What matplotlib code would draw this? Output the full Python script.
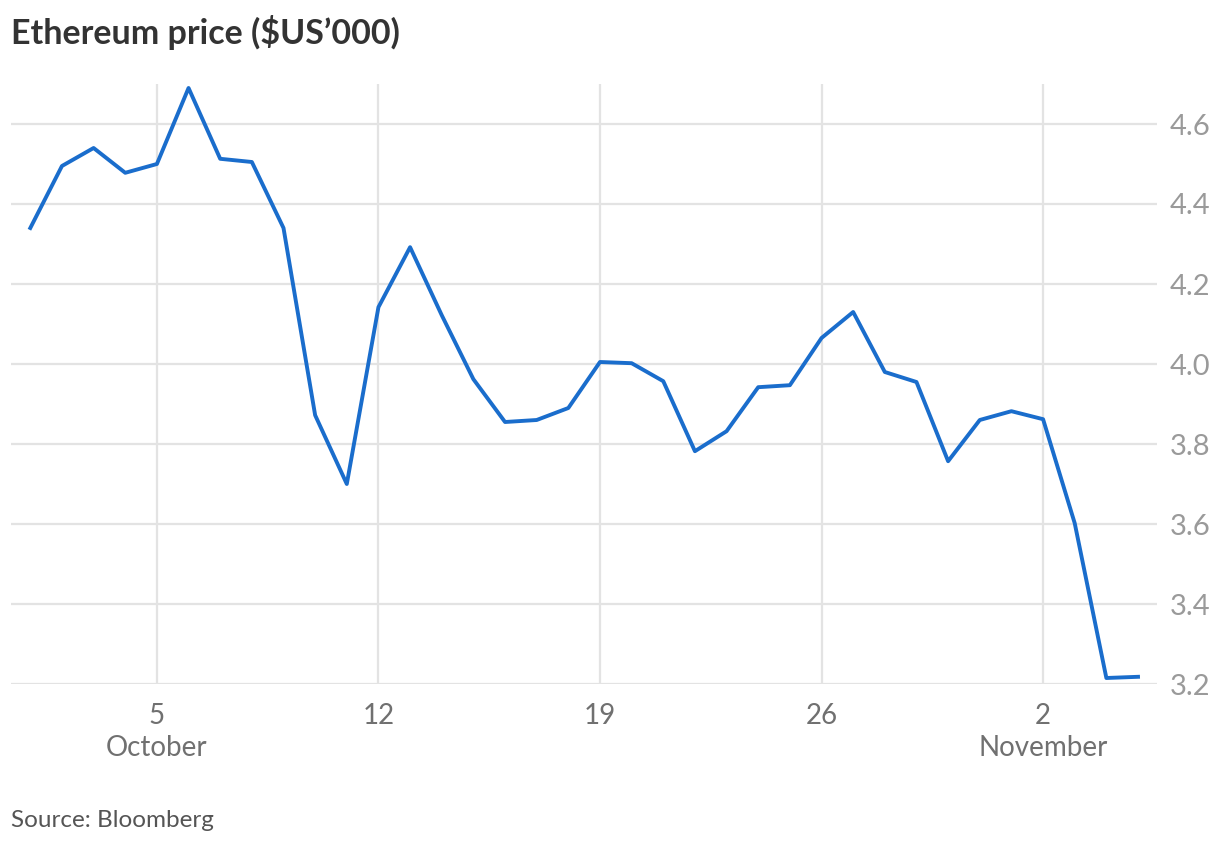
import numpy as np
import matplotlib.pyplot as plt

plt.rcParams["font.family"] = ["Lato", "DejaVu Sans"]

# daily prices, 1 Oct to 5 Nov, in $US'000
days = list(range(36))  # 0 = 1 October
price = [4.34, 4.495, 4.54, 4.478, 4.50, 4.69, 4.513, 4.505, 4.34, 3.872,
         3.70, 4.142, 4.292, 4.122, 3.962, 3.855, 3.86, 3.89, 4.005, 4.002,
         3.957, 3.782, 3.832, 3.942, 3.947, 4.065, 4.13, 3.98, 3.955, 3.757,
         3.86, 3.882, 3.862, 3.602, 3.215, 3.218]

tick_days = [4, 11, 18, 25, 32]
tick_labels = ["5\nOctober", "12", "19", "26", "2\nNovember"]
y_ticks = [3.2, 3.4, 3.6, 3.8, 4.0, 4.2, 4.4, 4.6]

fig = plt.figure(figsize=(12.2, 8.46), dpi=100)
ax = fig.add_axes([11 / 1220, 1 - 684 / 846, 1146 / 1220, 600 / 846])

ax.plot(days, price, color="#1a6dcc", linewidth=2.8, zorder=3)

ax.set_xlim(-0.61, 35.6)
ax.set_ylim(3.2, 4.7)

ax.set_yticks(y_ticks)
ax.set_yticklabels([f"{v:.1f}" for v in y_ticks])
ax.yaxis.tick_right()
ax.tick_params(axis="y", length=0, pad=9, labelsize=21, labelcolor="#9a9a9a")

ax.set_xticks(tick_days)
ax.set_xticklabels(tick_labels, linespacing=1.25)
ax.tick_params(axis="x", length=0, pad=14, labelsize=20, labelcolor="#707070")

ax.grid(True, color="#e3e3e3", linewidth=1.6)
ax.set_axisbelow(True)
for s in ax.spines.values():
    s.set_visible(False)

fig.text(11 / 1220, 1 - 33 / 846, "Ethereum price ($US\u2019000)", fontsize=24.5,
         fontweight="bold", color="#333333", va="center", ha="left")
fig.text(11 / 1220, 1 - 820 / 846, "Source: Bloomberg", fontsize=17.5,
         color="#555555", va="center", ha="left")

fig.savefig("out.png", dpi=100)
